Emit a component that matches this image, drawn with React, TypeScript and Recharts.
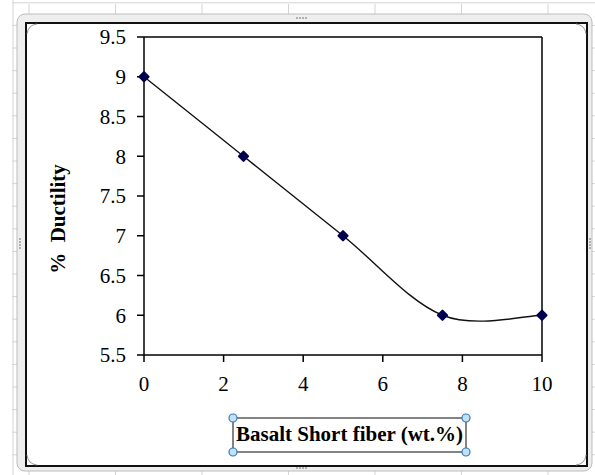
import React from 'react';
import { LineChart, Line, XAxis, YAxis, ReferenceLine } from 'recharts';

const fiberContent = [0, 2.5, 5, 7.5, 10];
const ductility = [9, 8, 7, 6, 6];
const xTicks = [0, 2, 4, 6, 8, 10];
const yTicks = [5.5, 6, 6.5, 7, 7.5, 8, 8.5, 9, 9.5];

const data = fiberContent.map((x, i) => ({ x, y: ductility[i] }));

const FONT = '"Liberation Serif", "Times New Roman", serif';

// Excel-style smoothed line (Catmull-Rom Bezier)
const excelSmooth: any = (context: any) => {
  let pts: number[][] = [];
  return {
    areaStart() {},
    areaEnd() {},
    lineStart() {
      pts = [];
    },
    point(x: number, y: number) {
      pts.push([+x, +y]);
    },
    lineEnd() {
      if (!pts.length) return;
      context.moveTo(pts[0][0], pts[0][1]);
      for (let i = 0; i < pts.length - 1; i++) {
        const p0 = pts[i - 1] || pts[i];
        const p1 = pts[i];
        const p2 = pts[i + 1];
        const p3 = pts[i + 2] || pts[i + 1];
        const c1x = p1[0] + (p2[0] - p0[0]) / 6;
        const c1y = p1[1] + (p2[1] - p0[1]) / 6;
        const c2x = p2[0] - (p3[0] - p1[0]) / 6;
        const c2y = p2[1] - (p3[1] - p1[1]) / 6;
        context.bezierCurveTo(c1x, c1y, c2x, c2y, p2[0], p2[1]);
      }
    },
  };
};

const Diamond = (props: any) => {
  const { cx, cy, index } = props;
  if (cx == null || cy == null) return <g key={index} />;
  const s = 4.5;
  return (
    <polygon
      key={index}
      points={`${cx},${cy - s} ${cx + s},${cy} ${cx},${cy + s} ${cx - s},${cy}`}
      fill="#000050"
      stroke="#000050"
      strokeWidth={2.2}
      strokeLinejoin="round"
    />
  );
};

const Background = () => {
  const vLines: number[] = [];
  for (let x = 29; x < 595; x += 86.5) vLines.push(x);
  const hLines: number[] = [];
  for (let y = 2.8; y < 475; y += 22.6) hLines.push(y);
  return (
    <svg width={595} height={475} style={{ position: 'absolute', left: 0, top: 0 }}>
      <rect x={0} y={0} width={595} height={475} fill="#ffffff" />
      {vLines.map((x, i) => (
        <line key={'v' + i} x1={x} y1={4} x2={x} y2={475} stroke="#d4d4d4" strokeWidth={1} />
      ))}
      {hLines.map((y, i) => (
        <line key={'h' + i} x1={12} y1={y} x2={595} y2={y} stroke="#d4d4d4" strokeWidth={1} />
      ))}
      <line x1={13} y1={0} x2={13} y2={475} stroke="#d4d4d4" strokeWidth={1} />
      <rect x={17} y={14} width={575} height={457} rx={8} ry={8} fill="#eeeeee" stroke="#bdbdbd" strokeWidth={1} />
      <rect x={26} y={23} width={561} height={443} fill="#ffffff" stroke="#111111" strokeWidth={2} />
      <path d="M27,34 Q28,25 37,24" fill="none" stroke="#9a9a9a" strokeWidth={1} />
      <path d="M576,24 Q585,25 586,34" fill="none" stroke="#9a9a9a" strokeWidth={1} />
      <path d="M27,455 Q28,464 37,465" fill="none" stroke="#9a9a9a" strokeWidth={1} />
      <path d="M576,465 Q585,464 586,455" fill="none" stroke="#9a9a9a" strokeWidth={1} />
      {[0, 1, 2, 3].map((k) => (
        <rect key={'tm' + k} x={296 + k * 3} y={17} width={2} height={2} fill="#b0b0b0" />
      ))}
      {[0, 1, 2, 3].map((k) => (
        <rect key={'bm' + k} x={296 + k * 3} y={467} width={2} height={2} fill="#b0b0b0" />
      ))}
      {[0, 1, 2, 3].map((k) => (
        <rect key={'lm' + k} x={19} y={238 + k * 3} width={2} height={2} fill="#b0b0b0" />
      ))}
      {[0, 1, 2, 3].map((k) => (
        <rect key={'rm' + k} x={589} y={238 + k * 3} width={2} height={2} fill="#b0b0b0" />
      ))}
    </svg>
  );
};

const Overlay = () => {
  const handles = [
    [233, 418],
    [466, 418],
    [233, 452],
    [466, 452],
  ];
  return (
    <svg width={595} height={475} style={{ position: 'absolute', left: 0, top: 0, pointerEvents: 'none' }}>
      <text
        x={65}
        y={219}
        transform="rotate(-90 65 219)"
        textAnchor="middle"
        fontFamily={FONT}
        fontWeight="bold"
        fontSize={21}
        fill="#000"
        xmlSpace="preserve"
        style={{ whiteSpace: 'pre' }}
      >
        {'%  Ductility'}
      </text>
      <rect x={233} y={418} width={233} height={34} fill="#ffffff" stroke="#333333" strokeWidth={1.2} />
      <text x={349.5} y={441} textAnchor="middle" fontFamily={FONT} fontWeight="bold" fontSize={21} fill="#000">
        Basalt Short fiber (wt.%)
      </text>
      {handles.map(([hx, hy], i) => (
        <circle key={i} cx={hx} cy={hy} r={4} fill="#bfe3f5" stroke="#3b78b5" strokeWidth={1.2} />
      ))}
    </svg>
  );
};

export default function App() {
  return (
    <div style={{ position: 'absolute', left: 0, top: 0, width: 595, height: 475, overflow: 'hidden' }}>
      <Background />
      <div style={{ position: 'absolute', left: 0, top: 0 }}>
        <LineChart
          width={595}
          height={475}
          data={data}
          margin={{ top: 37, right: 53, bottom: 80, left: 84 }}
        >
          <XAxis
            dataKey="x"
            type="number"
            domain={[0, 10]}
            ticks={xTicks}
            height={40}
            axisLine={{ stroke: '#000', strokeWidth: 1.5 }}
            tickLine={{ stroke: '#000', strokeWidth: 1.5 }}
            tickSize={7}
            tickMargin={14}
            tick={{ fill: '#000', fontFamily: FONT, fontSize: 21 }}
            interval={0}
          />
          <YAxis
            type="number"
            domain={[5.5, 9.5]}
            ticks={yTicks}
            width={60}
            axisLine={{ stroke: '#000', strokeWidth: 1.5 }}
            tickLine={{ stroke: '#000', strokeWidth: 1.5 }}
            tickSize={7}
            tickMargin={11}
            tick={{ fill: '#000', fontFamily: FONT, fontSize: 21 }}
            interval={0}
          />
          <ReferenceLine y={9.5} stroke="#000" strokeWidth={1.5} />
          <ReferenceLine x={10} stroke="#000" strokeWidth={1.5} />
          <Line
            dataKey="y"
            type={excelSmooth}
            stroke="#111"
            strokeWidth={1.4}
            dot={Diamond}
            activeDot={false}
            isAnimationActive={false}
          />
        </LineChart>
      </div>
      <Overlay />
    </div>
  );
}
